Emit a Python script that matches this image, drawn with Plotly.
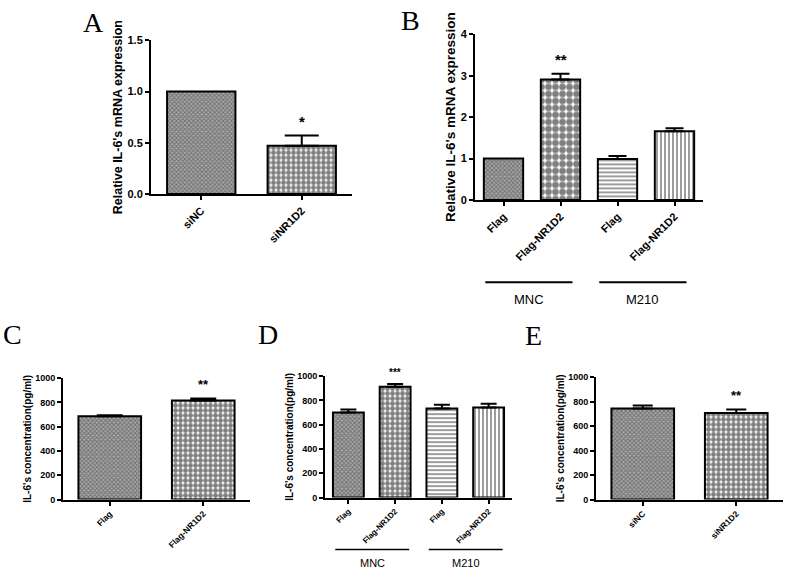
import plotly.graph_objects as go

# ---------------- data ----------------
# Panel A
a_labels = ["siNC", "siNR1D2"]
a_vals = [1.0, 0.47]
a_err = [0.0, 0.10]
a_sig = ["", "*"]

# Panel B
b_labels = ["Flag", "Flag-NR1D2", "Flag", "Flag-NR1D2"]
b_vals = [1.0, 2.91, 0.99, 1.66]
b_err = [0.0, 0.14, 0.07, 0.07]
b_sig = ["", "**", "", ""]
b_groups = ["MNC", "M210"]

# Panel C
c_labels = ["Flag", "Flag-NR1D2"]
c_vals = [685, 815]
c_err = [10, 18]
c_sig = ["", "**"]

# Panel D
d_labels = ["Flag", "Flag-NR1D2", "Flag", "Flag-NR1D2"]
d_vals = [701, 912, 734, 742]
d_err = [25, 23, 30, 30]
d_sig = ["", "***", "", ""]
d_groups = ["MNC", "M210"]

# Panel E
e_labels = ["siNC", "siNR1D2"]
e_vals = [744, 706]
e_err = [25, 30]
e_sig = ["", "**"]

# ---------------- styles ----------------
W, H = 787, 577
FONT = "Liberation Sans"
SERIF = "Liberation Serif"

pat_gray = dict(shape="x", size=3, solidity=0.55, fgcolor="#3c3c3c", bgcolor="#a8a8a8")
pat_check = dict(shape=".", size=6, solidity=0.72, fgcolor="#000000", bgcolor="#ffffff")
pat_hline = dict(shape="-", size=4, solidity=0.45, fgcolor="#222222", bgcolor="#ffffff")
pat_vline = dict(shape="|", size=4, solidity=0.45, fgcolor="#222222", bgcolor="#ffffff")


def px_x(p):
    return p / W


def px_y(p):
    return 1 - p / H


fig = go.Figure()

panels = [
    dict(key="", labels=a_labels, vals=a_vals, err=a_err, sig=a_sig,
         pats=[pat_gray, dict(pat_check, size=5)],
         xdom=[151, 352], ydom=[192, 35], yrange=[0, 1.5], dtick=0.5, tfmt=".1f",
         title="Relative IL-6's mRNA expression", tsize=12.5, ticksize=11, xticksize=11,
         capw=17, bw=0.68, sigsize=15),
    dict(key="2", labels=b_labels, vals=b_vals, err=b_err, sig=b_sig,
         pats=[pat_gray, dict(pat_check, size=7), pat_hline, pat_vline],
         xdom=[475, 703], ydom=[198, 29], yrange=[0, 4], dtick=1, tfmt="d",
         title="Relative IL-6's mRNA expression", tsize=13.5, ticksize=11, xticksize=11,
         capw=9, bw=0.69, sigsize=15),
    dict(key="3", labels=c_labels, vals=c_vals, err=c_err, sig=c_sig,
         pats=[pat_gray, dict(pat_check, size=5)],
         xdom=[63, 250], ydom=[504, 380], yrange=[0, 1000], dtick=200, tfmt="d",
         title="IL-6's concentration(pg/ml)", tsize=10, ticksize=9, xticksize=8.5,
         capw=13, bw=0.67, sigsize=13),
    dict(key="4", labels=d_labels, vals=d_vals, err=d_err, sig=d_sig,
         pats=[pat_gray, dict(pat_check, size=5), pat_hline, pat_vline],
         xdom=[325, 512], ydom=[502, 378], yrange=[0, 1000], dtick=200, tfmt="d",
         title="IL-6's concentration(pg/ml)", tsize=10, ticksize=9, xticksize=8,
         capw=8, bw=0.66, sigsize=10),
    dict(key="5", labels=e_labels, vals=e_vals, err=e_err, sig=e_sig,
         pats=[pat_gray, dict(pat_check, size=5)],
         xdom=[596, 783], ydom=[504, 379], yrange=[0, 1000], dtick=200, tfmt="d",
         title="IL-6's concentration(pg/ml)", tsize=10, ticksize=9, xticksize=8.5,
         capw=10, bw=0.67, sigsize=13),
]

annotations = []
shapes = []

for p in panels:
    k = p["key"]
    n = len(p["labels"])
    xs = list(range(n))
    for i in xs:
        fig.add_trace(go.Bar(
            x=[i], y=[p["vals"][i]],
            xaxis="x" + k, yaxis="y" + k,
            width=p["bw"],
            marker=dict(color="#ffffff", pattern=p["pats"][i],
                        line=dict(color="black", width=2)),
            error_y=dict(type="data", symmetric=False,
                         array=[p["err"][i]], arrayminus=[0],
                         color="black", thickness=2, width=p["capw"],
                         visible=p["err"][i] > 0),
            showlegend=False, hoverinfo="skip",
        ))
        if p["sig"][i]:
            annotations.append(dict(
                x=i, y=p["vals"][i] + p["err"][i],
                xref="x" + k, yref="y" + k,
                text=p["sig"][i], showarrow=False, yanchor="bottom", yshift=4,
                font=dict(family=FONT, size=p["sigsize"], color="black", weight="bold"),
            ))
    xa = dict(
        domain=[px_x(p["xdom"][0]), px_x(p["xdom"][1])],
        anchor="y" + k,
        range=[-0.5, n - 0.5],
        tickvals=xs, ticktext=p["labels"], tickangle=-45,
        tickfont=dict(family=FONT, size=p["xticksize"], color="black", weight="bold"),
        ticks="outside", ticklen=4, tickwidth=1.5, tickcolor="black",
        showline=True, linecolor="black", linewidth=2,
        showgrid=False, zeroline=False, fixedrange=True,
    )
    ya = dict(
        domain=[px_y(p["ydom"][0]), px_y(p["ydom"][1])],
        anchor="x" + k,
        range=p["yrange"], dtick=p["dtick"], tick0=0, tickformat=p["tfmt"],
        tickfont=dict(family=FONT, size=p["ticksize"], color="black", weight="bold"),
        ticks="outside", ticklen=4, tickwidth=1.5, tickcolor="black",
        showline=True, linecolor="black", linewidth=2,
        showgrid=False, zeroline=False, fixedrange=True,
        title=dict(text=p["title"], standoff=2,
                   font=dict(family=FONT, size=p["tsize"], color="black", weight="bold")),
    )
    fig.update_layout(**{"xaxis" + k: xa, "yaxis" + k: ya})

# group lines and labels (panels B and D)
group_specs = [
    dict(k="2", groups=b_groups, line_y=282, text_y=300, pad_l=0.32, pad_r=0.21,
         lw=2, fsize=13),
    dict(k="4", groups=d_groups, line_y=555, text_y=569, pad_l=0.28, pad_r=0.3,
         lw=1.5, fsize=11),
]
for g in group_specs:
    for gi, name in enumerate(g["groups"]):
        first, last = 2 * gi, 2 * gi + 1
        shapes.append(dict(type="line", xref="x" + g["k"], yref="paper",
                           x0=first - g["pad_l"], x1=last + g["pad_r"],
                           y0=px_y(g["line_y"]), y1=px_y(g["line_y"]),
                           line=dict(color="black", width=g["lw"])))
        annotations.append(dict(x=(first + last) / 2 + (g["pad_r"] - g["pad_l"]) / 2,
                                y=px_y(g["text_y"]),
                                xref="x" + g["k"], yref="paper", text=name,
                                showarrow=False, yanchor="middle",
                                font=dict(family=FONT, size=g["fsize"], color="black")))

# panel letters
for letter, lx, ly in [("A", 93, 17), ("B", 410, 15), ("C", 12, 335), ("D", 268, 335), ("E", 533, 337)]:
    annotations.append(dict(x=px_x(lx), y=px_y(ly), xref="paper", yref="paper",
                            text=letter, showarrow=False, xanchor="center", yanchor="middle",
                            font=dict(family=SERIF, size=28, color="black")))

fig.update_layout(
    width=W, height=H, autosize=False,
    margin=dict(l=0, r=0, t=0, b=0),
    paper_bgcolor="white", plot_bgcolor="white",
    bargap=0.3, barmode="overlay",
    annotations=annotations, shapes=shapes,
    showlegend=False,
)

fig.write_html("out.html", config={"displayModeBar": False},
               post_script="document.body.style.margin='0';")
